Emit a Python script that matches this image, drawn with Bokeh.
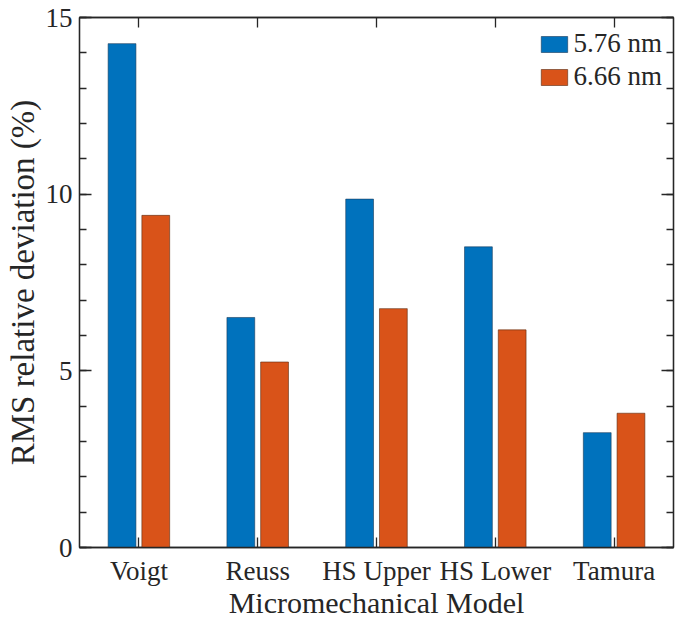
from bokeh.plotting import figure
from bokeh.models import (FactorRange, Range1d, SingleIntervalTicker, LinearAxis,
                          CategoricalAxis, Legend, LegendItem, ColumnDataSource,
                          CustomLabelingPolicy)
from bokeh.transform import dodge
from bokeh.embed import file_html
from bokeh.resources import INLINE

models = ["Voigt", "Reuss", "HS Upper", "HS Lower", "Tamura"]
rms_576 = [14.26, 6.51, 9.86, 8.51, 3.25]
rms_666 = [9.40, 5.25, 6.76, 6.16, 3.80]
series_labels = ["5.76 nm", "6.66 nm"]
y_ticks_major = 5

FONT = "Liberation Serif"
AX = "#262626"
BLUE = "#0072BD"
ORANGE = "#D95319"

src = ColumnDataSource(dict(model=models, a=rms_576, b=rms_666))

p = figure(x_range=FactorRange(factors=models, range_padding=0),
           y_range=Range1d(0, 15),
           width=677, height=621, output_backend="svg", toolbar_location=None,
           min_border_left=79, min_border_right=0, min_border_top=17, min_border_bottom=74)

r1 = p.vbar(x=dodge("model", -0.142, range=p.x_range), top="a", width=0.234, source=src,
            fill_color=BLUE, line_color="#1a3a5a", line_width=0.6)
r2 = p.vbar(x=dodge("model", 0.142, range=p.x_range), top="b", width=0.234, source=src,
            fill_color=ORANGE, line_color="#5a2a10", line_width=0.6)

p.xgrid.visible = False
p.ygrid.visible = False
p.outline_line_color = AX
p.outline_line_width = 1.3

def style_axis(ax, show_labels):
    ax.axis_line_color = AX
    ax.axis_line_width = 1.3
    ax.major_tick_line_color = AX
    ax.minor_tick_line_color = AX
    ax.major_tick_line_width = 1.3
    ax.minor_tick_line_width = 1.3
    ax.major_tick_in = 12
    ax.major_tick_out = 0
    ax.minor_tick_in = 7
    ax.minor_tick_out = 0
    ax.major_label_text_font = FONT
    ax.major_label_text_color = "#262626"
    if show_labels:
        ax.major_label_text_font_size = "27px"
    else:
        ax.major_label_text_font_size = "1px"
        ax.major_label_standoff = 0
        ax.major_label_policy = CustomLabelingPolicy(code="return []")

yt = SingleIntervalTicker(interval=y_ticks_major, num_minor_ticks=5)
p.yaxis.ticker = yt
style_axis(p.yaxis[0], True)
p.yaxis.major_label_standoff = 7
p.yaxis.axis_label = "RMS relative deviation (%)"
p.yaxis.axis_label_text_font = FONT
p.yaxis.axis_label_text_font_style = "normal"
p.yaxis.axis_label_text_font_size = "33px"
p.yaxis.axis_label_text_color = "#262626"
p.yaxis.axis_label_standoff = 2

style_axis(p.xaxis[0], True)
p.xaxis.major_tick_in = 10
p.xaxis.major_label_standoff = 8
p.xaxis.axis_label = "Micromechanical Model"
p.xaxis.axis_label_text_font = FONT
p.xaxis.axis_label_text_font_style = "normal"
p.xaxis.axis_label_text_font_size = "30px"
p.xaxis.axis_label_text_color = "#262626"
p.xaxis.axis_label_standoff = -3

ra = LinearAxis(ticker=SingleIntervalTicker(interval=y_ticks_major, num_minor_ticks=5))
style_axis(ra, False)
p.add_layout(ra, "right")
ta = CategoricalAxis()
style_axis(ta, False)
ta.major_tick_in = 10
p.add_layout(ta, "above")

legend = Legend(items=[LegendItem(label=series_labels[0], renderers=[r1]),
                       LegendItem(label=series_labels[1], renderers=[r2])],
                location="top_right")
legend.label_text_font = FONT
legend.label_text_font_size = "27px"
legend.label_text_color = "#262626"
legend.glyph_width = 33
legend.glyph_height = 20
legend.label_height = 20
legend.label_standoff = 3
legend.spacing = 2
legend.padding = 0
legend.margin = 11
legend.border_line_alpha = 0
legend.background_fill_alpha = 0
p.add_layout(legend)

open("out.html", "w").write(file_html(p, INLINE))
